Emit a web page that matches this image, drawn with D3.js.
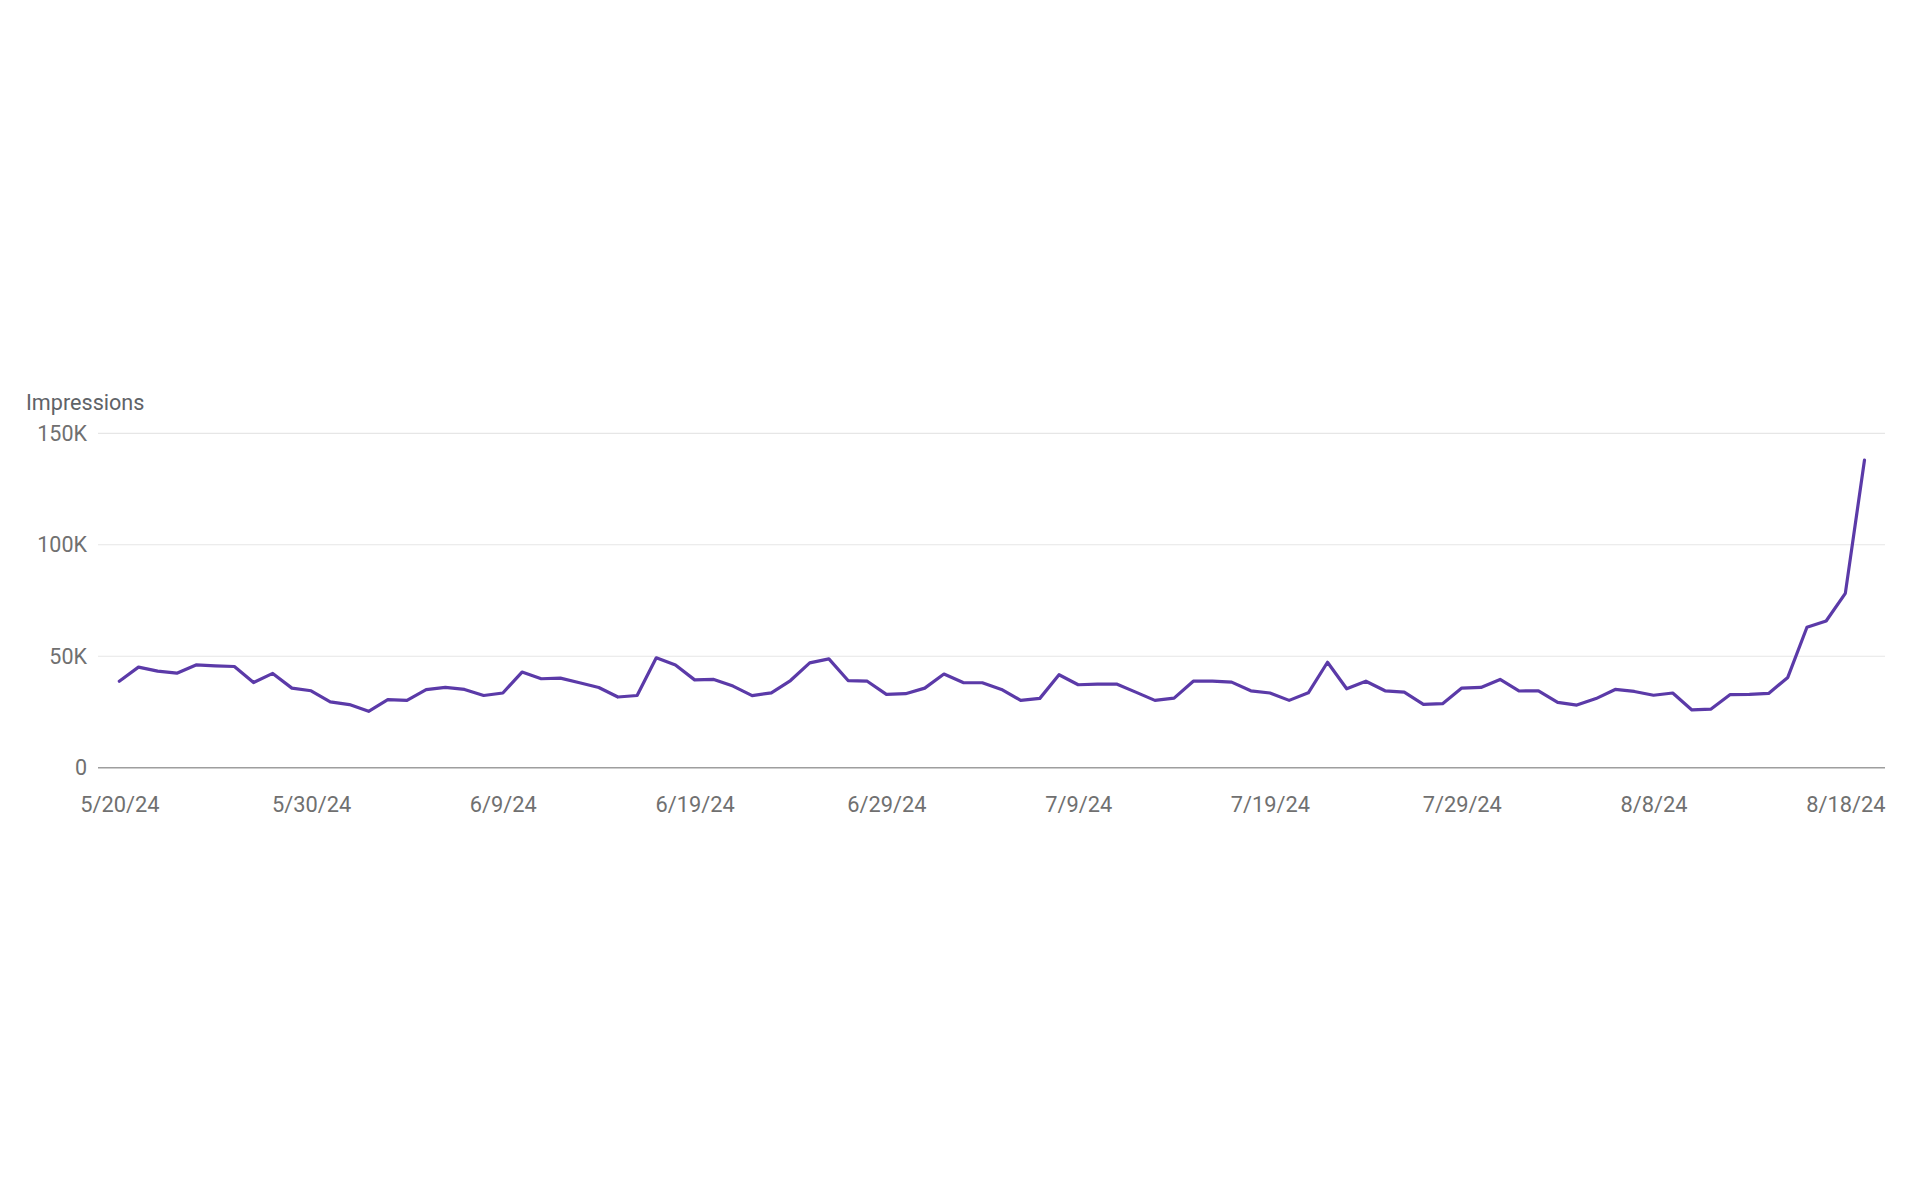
<!DOCTYPE html>
<html>
<head>
<meta charset="utf-8">
<script src="https://cdn.jsdelivr.net/npm/d3@7"></script>
<style>
  html, body { margin: 0; padding: 0; background: #fff; }
  svg { display: block; font-family: Roboto, "Noto Sans", Arial, sans-serif; }
</style>
</head>
<body>
<svg id="chart" width="1920" height="1200"></svg>
<script>
// ---- data ----
const startDate = "2024-05-20";
const endDate = "2024-08-19";
const impressions = [
  38800, 45100, 43300, 42400, 46100, 45700, 45400, 38200, 42300, 35700,
  34500, 29500, 28300, 25300, 30500, 30200, 35000, 36000, 35100, 32400,
  33500, 42900, 39900, 40200, 38100, 36000, 31700, 32400, 49300, 46100,
  39400, 39600, 36600, 32300, 33600, 39100, 47000, 48800, 39100, 38800,
  32900, 33200, 35700, 42000, 38200, 38100, 35100, 30200, 31100, 41700,
  37200, 37500, 37500, 33900, 30200, 31200, 38800, 38800, 38400, 34500,
  33500, 30200, 33600, 47300, 35400, 38800, 34500, 33900, 28400, 28700,
  35700, 36000, 39600, 34400, 34500, 29300, 28100, 31000, 35100, 34200,
  32500, 33500, 25900, 26300, 32800, 32900, 33300, 40500, 63000, 65800,
  78200, 138000
];
const xTickLabels = ["5/20/24","5/30/24","6/9/24","6/19/24","6/29/24","7/9/24","7/19/24","7/29/24","8/8/24","8/18/24"];
const yTickValues = [0, 50000, 100000, 150000];
const yTickLabels = ["0", "50K", "100K", "150K"];
const yAxisTitle = "Impressions";

// ---- build ----
const parse = d3.timeParse("%Y-%m-%d");
const parseTick = d3.timeParse("%m/%d/%y");
const t0 = parse(startDate), t1 = parse(endDate);
const days = d3.timeDay.range(t0, d3.timeDay.offset(t1, 1));
const data = days.map((d, i) => ({ date: d, value: impressions[i] }));

const svg = d3.select("#chart");
const gridLeft = 98, gridRight = 1885;
const x = d3.scaleTime().domain([t0, t1]).range([119.3, 1864.5]);
const y = d3.scaleLinear().domain([0, 150000]).range([767.7, 433.3]);

// gridlines
svg.append("g").selectAll("line")
  .data(yTickValues.filter(v => v > 0))
  .join("line")
  .attr("x1", gridLeft).attr("x2", gridRight)
  .attr("y1", d => y(d)).attr("y2", d => y(d))
  .attr("stroke", "#e6e6e6").attr("stroke-width", 1.2);

// baseline
svg.append("line")
  .attr("x1", gridLeft).attr("x2", gridRight)
  .attr("y1", y(0)).attr("y2", y(0))
  .attr("stroke", "#9e9e9e").attr("stroke-width", 1.6);

// y labels
const yAxis = d3.axisLeft(y).tickValues(yTickValues)
  .tickFormat((d, i) => yTickLabels[i]).tickSize(0).tickPadding(0);
const gy = svg.append("g").attr("transform", "translate(87,0)").call(yAxis);
gy.select(".domain").remove();
gy.selectAll("text").attr("fill", "#707070").attr("font-size", 21.5)
  .attr("font-family", "Roboto, sans-serif");

// x labels
const xAxis = d3.axisBottom(x)
  .tickValues(xTickLabels.map(s => parseTick(s)))
  .tickFormat(d3.timeFormat("%-m/%-d/%y")).tickSize(0).tickPadding(0);
const gx = svg.append("g").attr("transform", "translate(0,797)").call(xAxis);
gx.select(".domain").remove();
gx.selectAll("text").attr("fill", "#707070").attr("font-size", 21.8)
  .attr("font-family", "Roboto, sans-serif");

// axis title
svg.append("text")
  .attr("x", 26).attr("y", 410)
  .attr("fill", "#5f6368").attr("font-size", 21.6)
  .text(yAxisTitle);

// line
const line = d3.line().x(d => x(d.date)).y(d => y(d.value));
svg.append("path").datum(data)
  .attr("d", line)
  .attr("fill", "none")
  .attr("stroke", "#5b3aa8")
  .attr("stroke-width", 3.2)
  .attr("stroke-linejoin", "round")
  .attr("stroke-linecap", "round");
</script>
</body>
</html>
